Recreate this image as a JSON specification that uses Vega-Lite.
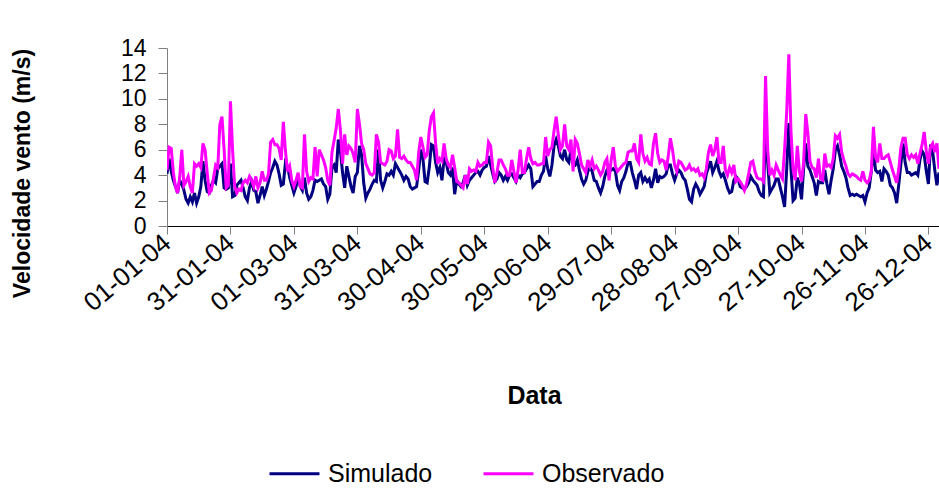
{
  "$schema": "https://vega.github.io/schema/vega-lite/v6.json",
  "width": 772,
  "height": 178,
  "autosize": {"type": "none"},
  "padding": {"left": 167, "top": 48, "right": 0, "bottom": 266},
  "background": "white",
  "config": {"font": "Liberation Sans", "view": {"stroke": null}},
  "data": {"values": [
    {"data":"2004-01-01","Simulado":4.1,"Observado":4.4},
    {"data":"2004-01-02","Simulado":5.3,"Observado":6.2},
    {"data":"2004-01-03","Simulado":4.3,"Observado":6.1},
    {"data":"2004-01-04","Simulado":3.6,"Observado":4.2},
    {"data":"2004-01-05","Simulado":3.1,"Observado":3.1},
    {"data":"2004-01-06","Simulado":2.6,"Observado":2.6},
    {"data":"2004-01-07","Simulado":3.6,"Observado":3.8},
    {"data":"2004-01-08","Simulado":3.3,"Observado":6.0},
    {"data":"2004-01-09","Simulado":2.8,"Observado":3.2},
    {"data":"2004-01-10","Simulado":2.1,"Observado":3.5},
    {"data":"2004-01-11","Simulado":1.8,"Observado":3.9},
    {"data":"2004-01-12","Simulado":2.3,"Observado":3.1},
    {"data":"2004-01-13","Simulado":1.9,"Observado":2.6},
    {"data":"2004-01-14","Simulado":2.6,"Observado":4.9},
    {"data":"2004-01-15","Simulado":1.8,"Observado":4.7},
    {"data":"2004-01-16","Simulado":2.3,"Observado":4.9},
    {"data":"2004-01-17","Simulado":3.1,"Observado":4.6},
    {"data":"2004-01-18","Simulado":5.1,"Observado":6.5},
    {"data":"2004-01-19","Simulado":3.6,"Observado":6.0},
    {"data":"2004-01-20","Simulado":2.7,"Observado":4.2},
    {"data":"2004-01-21","Simulado":2.6,"Observado":2.6},
    {"data":"2004-01-22","Simulado":3.2,"Observado":2.8},
    {"data":"2004-01-23","Simulado":3.6,"Observado":3.8},
    {"data":"2004-01-24","Simulado":3.4,"Observado":4.8},
    {"data":"2004-01-25","Simulado":4.5,"Observado":4.6},
    {"data":"2004-01-26","Simulado":4.7,"Observado":8.0},
    {"data":"2004-01-27","Simulado":4.9,"Observado":8.6},
    {"data":"2004-01-28","Simulado":3.0,"Observado":6.0},
    {"data":"2004-01-29","Simulado":2.9,"Observado":3.0},
    {"data":"2004-01-30","Simulado":3.0,"Observado":3.2},
    {"data":"2004-01-31","Simulado":4.9,"Observado":9.8},
    {"data":"2004-02-01","Simulado":2.3,"Observado":6.0},
    {"data":"2004-02-02","Simulado":2.4,"Observado":3.1},
    {"data":"2004-02-03","Simulado":3.2,"Observado":2.6},
    {"data":"2004-02-04","Simulado":3.4,"Observado":2.9},
    {"data":"2004-02-05","Simulado":3.6,"Observado":2.8},
    {"data":"2004-02-06","Simulado":3.0,"Observado":3.4},
    {"data":"2004-02-07","Simulado":2.3,"Observado":3.6},
    {"data":"2004-02-08","Simulado":2.0,"Observado":3.4},
    {"data":"2004-02-09","Simulado":3.0,"Observado":3.9},
    {"data":"2004-02-10","Simulado":3.5,"Observado":3.6},
    {"data":"2004-02-11","Simulado":2.8,"Observado":3.1},
    {"data":"2004-02-12","Simulado":2.7,"Observado":3.9},
    {"data":"2004-02-13","Simulado":1.8,"Observado":3.0},
    {"data":"2004-02-14","Simulado":2.4,"Observado":3.4},
    {"data":"2004-02-15","Simulado":3.1,"Observado":4.3},
    {"data":"2004-02-16","Simulado":2.4,"Observado":3.6},
    {"data":"2004-02-17","Simulado":2.9,"Observado":3.6},
    {"data":"2004-02-18","Simulado":3.5,"Observado":4.1},
    {"data":"2004-02-19","Simulado":4.2,"Observado":6.6},
    {"data":"2004-02-20","Simulado":4.6,"Observado":6.8},
    {"data":"2004-02-21","Simulado":5.1,"Observado":6.4},
    {"data":"2004-02-22","Simulado":4.8,"Observado":6.4},
    {"data":"2004-02-23","Simulado":4.1,"Observado":6.1},
    {"data":"2004-02-24","Simulado":3.2,"Observado":5.2},
    {"data":"2004-02-25","Simulado":3.3,"Observado":8.2},
    {"data":"2004-02-26","Simulado":5.0,"Observado":5.9},
    {"data":"2004-02-27","Simulado":4.7,"Observado":4.3},
    {"data":"2004-02-28","Simulado":3.8,"Observado":4.7},
    {"data":"2004-02-29","Simulado":3.2,"Observado":3.6},
    {"data":"2004-03-01","Simulado":2.6,"Observado":3.1},
    {"data":"2004-03-02","Simulado":3.1,"Observado":3.6},
    {"data":"2004-03-03","Simulado":3.9,"Observado":4.2},
    {"data":"2004-03-04","Simulado":3.1,"Observado":3.1},
    {"data":"2004-03-05","Simulado":2.8,"Observado":3.0},
    {"data":"2004-03-06","Simulado":3.8,"Observado":7.2},
    {"data":"2004-03-07","Simulado":2.6,"Observado":4.3},
    {"data":"2004-03-08","Simulado":2.1,"Observado":3.5},
    {"data":"2004-03-09","Simulado":2.3,"Observado":3.8},
    {"data":"2004-03-10","Simulado":2.8,"Observado":3.7},
    {"data":"2004-03-11","Simulado":3.6,"Observado":6.2},
    {"data":"2004-03-12","Simulado":3.5,"Observado":3.9},
    {"data":"2004-03-13","Simulado":3.6,"Observado":6.0},
    {"data":"2004-03-14","Simulado":3.7,"Observado":5.6},
    {"data":"2004-03-15","Simulado":3.3,"Observado":5.2},
    {"data":"2004-03-16","Simulado":3.1,"Observado":4.6},
    {"data":"2004-03-17","Simulado":2.1,"Observado":3.6},
    {"data":"2004-03-18","Simulado":2.5,"Observado":3.2},
    {"data":"2004-03-19","Simulado":4.6,"Observado":5.8},
    {"data":"2004-03-20","Simulado":4.8,"Observado":6.7},
    {"data":"2004-03-21","Simulado":4.2,"Observado":7.7},
    {"data":"2004-03-22","Simulado":6.8,"Observado":9.2},
    {"data":"2004-03-23","Simulado":5.9,"Observado":7.5},
    {"data":"2004-03-24","Simulado":4.2,"Observado":4.9},
    {"data":"2004-03-25","Simulado":3.0,"Observado":7.2},
    {"data":"2004-03-26","Simulado":4.7,"Observado":5.6},
    {"data":"2004-03-27","Simulado":3.9,"Observado":6.3},
    {"data":"2004-03-28","Simulado":3.1,"Observado":6.1},
    {"data":"2004-03-29","Simulado":2.6,"Observado":5.7},
    {"data":"2004-03-30","Simulado":3.9,"Observado":5.0},
    {"data":"2004-03-31","Simulado":4.2,"Observado":9.2},
    {"data":"2004-04-01","Simulado":6.3,"Observado":8.0},
    {"data":"2004-04-02","Simulado":5.6,"Observado":6.5},
    {"data":"2004-04-03","Simulado":3.4,"Observado":6.0},
    {"data":"2004-04-04","Simulado":2.2,"Observado":4.9},
    {"data":"2004-04-05","Simulado":2.6,"Observado":4.5},
    {"data":"2004-04-06","Simulado":2.9,"Observado":4.1},
    {"data":"2004-04-07","Simulado":3.3,"Observado":4.0},
    {"data":"2004-04-08","Simulado":3.6,"Observado":4.2},
    {"data":"2004-04-09","Simulado":3.5,"Observado":7.2},
    {"data":"2004-04-10","Simulado":6.0,"Observado":6.6},
    {"data":"2004-04-11","Simulado":3.6,"Observado":5.0},
    {"data":"2004-04-12","Simulado":3.0,"Observado":4.9},
    {"data":"2004-04-13","Simulado":3.5,"Observado":4.8},
    {"data":"2004-04-14","Simulado":4.1,"Observado":5.1},
    {"data":"2004-04-15","Simulado":4.0,"Observado":6.0},
    {"data":"2004-04-16","Simulado":4.3,"Observado":5.9},
    {"data":"2004-04-17","Simulado":4.0,"Observado":5.3},
    {"data":"2004-04-18","Simulado":4.9,"Observado":5.5},
    {"data":"2004-04-19","Simulado":4.6,"Observado":7.6},
    {"data":"2004-04-20","Simulado":4.3,"Observado":5.4},
    {"data":"2004-04-21","Simulado":4.0,"Observado":5.3},
    {"data":"2004-04-22","Simulado":3.6,"Observado":5.5},
    {"data":"2004-04-23","Simulado":3.9,"Observado":5.2},
    {"data":"2004-04-24","Simulado":3.7,"Observado":5.0},
    {"data":"2004-04-25","Simulado":3.1,"Observado":5.0},
    {"data":"2004-04-26","Simulado":2.9,"Observado":4.7},
    {"data":"2004-04-27","Simulado":3.0,"Observado":4.4},
    {"data":"2004-04-28","Simulado":3.1,"Observado":3.6},
    {"data":"2004-04-29","Simulado":4.4,"Observado":5.8},
    {"data":"2004-04-30","Simulado":6.0,"Observado":7.0},
    {"data":"2004-05-01","Simulado":5.3,"Observado":6.2},
    {"data":"2004-05-02","Simulado":3.5,"Observado":5.4},
    {"data":"2004-05-03","Simulado":3.4,"Observado":5.6},
    {"data":"2004-05-04","Simulado":4.6,"Observado":7.5},
    {"data":"2004-05-05","Simulado":6.4,"Observado":8.6},
    {"data":"2004-05-06","Simulado":6.3,"Observado":8.9},
    {"data":"2004-05-07","Simulado":5.0,"Observado":6.5},
    {"data":"2004-05-08","Simulado":4.2,"Observado":4.9},
    {"data":"2004-05-09","Simulado":4.6,"Observado":5.3},
    {"data":"2004-05-10","Simulado":3.6,"Observado":5.1},
    {"data":"2004-05-11","Simulado":5.3,"Observado":6.5},
    {"data":"2004-05-12","Simulado":5.0,"Observado":5.3},
    {"data":"2004-05-13","Simulado":4.2,"Observado":4.8},
    {"data":"2004-05-14","Simulado":4.0,"Observado":4.6},
    {"data":"2004-05-15","Simulado":4.6,"Observado":5.6},
    {"data":"2004-05-16","Simulado":2.5,"Observado":4.6},
    {"data":"2004-05-17","Simulado":3.6,"Observado":3.5},
    {"data":"2004-05-18","Simulado":3.3,"Observado":3.4},
    {"data":"2004-05-19","Simulado":3.1,"Observado":3.2},
    {"data":"2004-05-20","Simulado":3.4,"Observado":3.0},
    {"data":"2004-05-21","Simulado":4.0,"Observado":4.0},
    {"data":"2004-05-22","Simulado":3.2,"Observado":3.3},
    {"data":"2004-05-23","Simulado":3.6,"Observado":4.5},
    {"data":"2004-05-24","Simulado":3.8,"Observado":4.3},
    {"data":"2004-05-25","Simulado":4.0,"Observado":4.4},
    {"data":"2004-05-26","Simulado":4.2,"Observado":4.3},
    {"data":"2004-05-27","Simulado":4.3,"Observado":5.0},
    {"data":"2004-05-28","Simulado":4.0,"Observado":4.7},
    {"data":"2004-05-29","Simulado":4.4,"Observado":4.8},
    {"data":"2004-05-30","Simulado":4.6,"Observado":5.0},
    {"data":"2004-05-31","Simulado":4.7,"Observado":5.0},
    {"data":"2004-06-01","Simulado":5.5,"Observado":6.6},
    {"data":"2004-06-02","Simulado":4.8,"Observado":6.3},
    {"data":"2004-06-03","Simulado":4.1,"Observado":4.6},
    {"data":"2004-06-04","Simulado":3.5,"Observado":3.4},
    {"data":"2004-06-05","Simulado":3.7,"Observado":4.2},
    {"data":"2004-06-06","Simulado":4.2,"Observado":5.2},
    {"data":"2004-06-07","Simulado":4.0,"Observado":5.2},
    {"data":"2004-06-08","Simulado":3.6,"Observado":4.8},
    {"data":"2004-06-09","Simulado":3.9,"Observado":4.5},
    {"data":"2004-06-10","Simulado":3.6,"Observado":4.0},
    {"data":"2004-06-11","Simulado":4.0,"Observado":4.0},
    {"data":"2004-06-12","Simulado":4.1,"Observado":5.2},
    {"data":"2004-06-13","Simulado":3.8,"Observado":4.3},
    {"data":"2004-06-14","Simulado":3.5,"Observado":3.4},
    {"data":"2004-06-15","Simulado":4.0,"Observado":4.4},
    {"data":"2004-06-16","Simulado":3.8,"Observado":6.0},
    {"data":"2004-06-17","Simulado":4.1,"Observado":4.2},
    {"data":"2004-06-18","Simulado":4.2,"Observado":4.2},
    {"data":"2004-06-19","Simulado":4.5,"Observado":5.3},
    {"data":"2004-06-20","Simulado":4.8,"Observado":6.2},
    {"data":"2004-06-21","Simulado":4.5,"Observado":5.3},
    {"data":"2004-06-22","Simulado":3.1,"Observado":4.9},
    {"data":"2004-06-23","Simulado":3.3,"Observado":5.0},
    {"data":"2004-06-24","Simulado":3.5,"Observado":4.8},
    {"data":"2004-06-25","Simulado":3.5,"Observado":4.8},
    {"data":"2004-06-26","Simulado":4.0,"Observado":4.9},
    {"data":"2004-06-27","Simulado":4.3,"Observado":4.9},
    {"data":"2004-06-28","Simulado":5.5,"Observado":7.0},
    {"data":"2004-06-29","Simulado":4.5,"Observado":5.5},
    {"data":"2004-06-30","Simulado":3.9,"Observado":6.0},
    {"data":"2004-07-01","Simulado":4.8,"Observado":6.2},
    {"data":"2004-07-02","Simulado":6.3,"Observado":7.5},
    {"data":"2004-07-03","Simulado":6.8,"Observado":8.6},
    {"data":"2004-07-04","Simulado":6.3,"Observado":7.2},
    {"data":"2004-07-05","Simulado":5.5,"Observado":6.0},
    {"data":"2004-07-06","Simulado":5.3,"Observado":6.3},
    {"data":"2004-07-07","Simulado":6.0,"Observado":8.0},
    {"data":"2004-07-08","Simulado":5.2,"Observado":6.3},
    {"data":"2004-07-09","Simulado":5.0,"Observado":6.0},
    {"data":"2004-07-10","Simulado":6.0,"Observado":6.8},
    {"data":"2004-07-11","Simulado":4.9,"Observado":4.3},
    {"data":"2004-07-12","Simulado":4.8,"Observado":6.8},
    {"data":"2004-07-13","Simulado":5.2,"Observado":6.5},
    {"data":"2004-07-14","Simulado":4.4,"Observado":5.7},
    {"data":"2004-07-15","Simulado":3.7,"Observado":4.8},
    {"data":"2004-07-16","Simulado":3.3,"Observado":4.5},
    {"data":"2004-07-17","Simulado":3.6,"Observado":4.2},
    {"data":"2004-07-18","Simulado":4.3,"Observado":5.2},
    {"data":"2004-07-19","Simulado":4.6,"Observado":4.7},
    {"data":"2004-07-20","Simulado":4.3,"Observado":5.2},
    {"data":"2004-07-21","Simulado":3.6,"Observado":4.5},
    {"data":"2004-07-22","Simulado":3.5,"Observado":4.7},
    {"data":"2004-07-23","Simulado":3.0,"Observado":4.4},
    {"data":"2004-07-24","Simulado":2.6,"Observado":4.0},
    {"data":"2004-07-25","Simulado":3.1,"Observado":4.3},
    {"data":"2004-07-26","Simulado":3.9,"Observado":5.0},
    {"data":"2004-07-27","Simulado":4.4,"Observado":5.3},
    {"data":"2004-07-28","Simulado":4.7,"Observado":3.6},
    {"data":"2004-07-29","Simulado":4.4,"Observado":5.2},
    {"data":"2004-07-30","Simulado":4.5,"Observado":6.2},
    {"data":"2004-07-31","Simulado":4.3,"Observado":4.7},
    {"data":"2004-08-01","Simulado":3.2,"Observado":4.3},
    {"data":"2004-08-02","Simulado":2.8,"Observado":4.5},
    {"data":"2004-08-03","Simulado":3.5,"Observado":4.7},
    {"data":"2004-08-04","Simulado":3.8,"Observado":4.9},
    {"data":"2004-08-05","Simulado":4.3,"Observado":5.0},
    {"data":"2004-08-06","Simulado":5.0,"Observado":5.8},
    {"data":"2004-08-07","Simulado":5.0,"Observado":5.9},
    {"data":"2004-08-08","Simulado":4.2,"Observado":5.9},
    {"data":"2004-08-09","Simulado":3.6,"Observado":6.5},
    {"data":"2004-08-10","Simulado":2.9,"Observado":5.3},
    {"data":"2004-08-11","Simulado":4.0,"Observado":5.0},
    {"data":"2004-08-12","Simulado":4.2,"Observado":7.2},
    {"data":"2004-08-13","Simulado":3.5,"Observado":5.7},
    {"data":"2004-08-14","Simulado":3.8,"Observado":5.1},
    {"data":"2004-08-15","Simulado":3.5,"Observado":5.4},
    {"data":"2004-08-16","Simulado":3.7,"Observado":4.9},
    {"data":"2004-08-17","Simulado":3.0,"Observado":4.8},
    {"data":"2004-08-18","Simulado":3.6,"Observado":6.5},
    {"data":"2004-08-19","Simulado":4.5,"Observado":7.3},
    {"data":"2004-08-20","Simulado":3.4,"Observado":5.7},
    {"data":"2004-08-21","Simulado":3.9,"Observado":5.0},
    {"data":"2004-08-22","Simulado":3.8,"Observado":5.2},
    {"data":"2004-08-23","Simulado":3.9,"Observado":5.1},
    {"data":"2004-08-24","Simulado":4.1,"Observado":4.4},
    {"data":"2004-08-25","Simulado":4.8,"Observado":5.5},
    {"data":"2004-08-26","Simulado":4.8,"Observado":6.9},
    {"data":"2004-08-27","Simulado":4.1,"Observado":6.0},
    {"data":"2004-08-28","Simulado":3.6,"Observado":4.8},
    {"data":"2004-08-29","Simulado":4.1,"Observado":4.3},
    {"data":"2004-08-30","Simulado":4.4,"Observado":5.1},
    {"data":"2004-08-31","Simulado":4.2,"Observado":5.0},
    {"data":"2004-09-01","Simulado":3.8,"Observado":4.7},
    {"data":"2004-09-02","Simulado":3.6,"Observado":4.4},
    {"data":"2004-09-03","Simulado":2.9,"Observado":4.5},
    {"data":"2004-09-04","Simulado":2.1,"Observado":4.8},
    {"data":"2004-09-05","Simulado":1.9,"Observado":4.4},
    {"data":"2004-09-06","Simulado":2.9,"Observado":4.5},
    {"data":"2004-09-07","Simulado":3.3,"Observado":4.3},
    {"data":"2004-09-08","Simulado":3.0,"Observado":4.5},
    {"data":"2004-09-09","Simulado":2.5,"Observado":4.0},
    {"data":"2004-09-10","Simulado":2.8,"Observado":4.1},
    {"data":"2004-09-11","Simulado":3.1,"Observado":3.8},
    {"data":"2004-09-12","Simulado":4.1,"Observado":4.5},
    {"data":"2004-09-13","Simulado":4.6,"Observado":5.8},
    {"data":"2004-09-14","Simulado":5.1,"Observado":6.4},
    {"data":"2004-09-15","Simulado":4.2,"Observado":5.5},
    {"data":"2004-09-16","Simulado":4.6,"Observado":6.0},
    {"data":"2004-09-17","Simulado":5.1,"Observado":7.0},
    {"data":"2004-09-18","Simulado":4.3,"Observado":5.0},
    {"data":"2004-09-19","Simulado":3.9,"Observado":5.0},
    {"data":"2004-09-20","Simulado":4.1,"Observado":6.3},
    {"data":"2004-09-21","Simulado":3.6,"Observado":4.4},
    {"data":"2004-09-22","Simulado":3.0,"Observado":4.0},
    {"data":"2004-09-23","Simulado":2.6,"Observado":4.6},
    {"data":"2004-09-24","Simulado":2.7,"Observado":4.2},
    {"data":"2004-09-25","Simulado":3.6,"Observado":4.8},
    {"data":"2004-09-26","Simulado":3.9,"Observado":3.5},
    {"data":"2004-09-27","Simulado":3.7,"Observado":3.7},
    {"data":"2004-09-28","Simulado":3.1,"Observado":3.5},
    {"data":"2004-09-29","Simulado":3.0,"Observado":3.2},
    {"data":"2004-09-30","Simulado":2.9,"Observado":2.8},
    {"data":"2004-10-01","Simulado":3.1,"Observado":3.3},
    {"data":"2004-10-02","Simulado":3.4,"Observado":4.1},
    {"data":"2004-10-03","Simulado":3.9,"Observado":5.0},
    {"data":"2004-10-04","Simulado":3.6,"Observado":5.1},
    {"data":"2004-10-05","Simulado":3.4,"Observado":4.3},
    {"data":"2004-10-06","Simulado":3.2,"Observado":3.8},
    {"data":"2004-10-07","Simulado":2.7,"Observado":3.7},
    {"data":"2004-10-08","Simulado":2.4,"Observado":3.7},
    {"data":"2004-10-09","Simulado":2.3,"Observado":3.5},
    {"data":"2004-10-10","Simulado":7.8,"Observado":11.8},
    {"data":"2004-10-11","Simulado":5.0,"Observado":6.0},
    {"data":"2004-10-12","Simulado":2.6,"Observado":4.0},
    {"data":"2004-10-13","Simulado":2.9,"Observado":4.4},
    {"data":"2004-10-14","Simulado":3.2,"Observado":4.0},
    {"data":"2004-10-15","Simulado":3.7,"Observado":4.8},
    {"data":"2004-10-16","Simulado":3.7,"Observado":4.4},
    {"data":"2004-10-17","Simulado":3.0,"Observado":4.0},
    {"data":"2004-10-18","Simulado":2.3,"Observado":3.7},
    {"data":"2004-10-19","Simulado":1.5,"Observado":6.0},
    {"data":"2004-10-20","Simulado":4.5,"Observado":9.0},
    {"data":"2004-10-21","Simulado":8.1,"Observado":13.5},
    {"data":"2004-10-22","Simulado":4.5,"Observado":7.5},
    {"data":"2004-10-23","Simulado":2.0,"Observado":4.5},
    {"data":"2004-10-24","Simulado":2.2,"Observado":3.6},
    {"data":"2004-10-25","Simulado":3.8,"Observado":6.3},
    {"data":"2004-10-26","Simulado":3.3,"Observado":4.3},
    {"data":"2004-10-27","Simulado":2.1,"Observado":3.5},
    {"data":"2004-10-28","Simulado":4.5,"Observado":5.0},
    {"data":"2004-10-29","Simulado":6.5,"Observado":8.8},
    {"data":"2004-10-30","Simulado":4.7,"Observado":7.3},
    {"data":"2004-10-31","Simulado":4.4,"Observado":5.1},
    {"data":"2004-11-01","Simulado":3.9,"Observado":4.6},
    {"data":"2004-11-02","Simulado":3.4,"Observado":4.5},
    {"data":"2004-11-03","Simulado":2.4,"Observado":3.8},
    {"data":"2004-11-04","Simulado":3.5,"Observado":5.3},
    {"data":"2004-11-05","Simulado":3.4,"Observado":3.7},
    {"data":"2004-11-06","Simulado":3.4,"Observado":3.6},
    {"data":"2004-11-07","Simulado":4.4,"Observado":5.7},
    {"data":"2004-11-08","Simulado":3.3,"Observado":4.7},
    {"data":"2004-11-09","Simulado":2.5,"Observado":4.8},
    {"data":"2004-11-10","Simulado":3.6,"Observado":4.6},
    {"data":"2004-11-11","Simulado":4.5,"Observado":5.3},
    {"data":"2004-11-12","Simulado":6.0,"Observado":7.1},
    {"data":"2004-11-13","Simulado":6.3,"Observado":6.9},
    {"data":"2004-11-14","Simulado":5.6,"Observado":7.2},
    {"data":"2004-11-15","Simulado":4.7,"Observado":5.8},
    {"data":"2004-11-16","Simulado":4.3,"Observado":5.2},
    {"data":"2004-11-17","Simulado":3.8,"Observado":4.7},
    {"data":"2004-11-18","Simulado":3.0,"Observado":4.1},
    {"data":"2004-11-19","Simulado":2.4,"Observado":3.9},
    {"data":"2004-11-20","Simulado":2.5,"Observado":4.1},
    {"data":"2004-11-21","Simulado":2.4,"Observado":4.0},
    {"data":"2004-11-22","Simulado":2.5,"Observado":3.9},
    {"data":"2004-11-23","Simulado":2.4,"Observado":3.7},
    {"data":"2004-11-24","Simulado":2.3,"Observado":3.6},
    {"data":"2004-11-25","Simulado":2.4,"Observado":4.3},
    {"data":"2004-11-26","Simulado":1.9,"Observado":3.6},
    {"data":"2004-11-27","Simulado":2.6,"Observado":3.4},
    {"data":"2004-11-28","Simulado":3.0,"Observado":3.6},
    {"data":"2004-11-29","Simulado":4.3,"Observado":4.3},
    {"data":"2004-11-30","Simulado":6.0,"Observado":7.8},
    {"data":"2004-12-01","Simulado":4.4,"Observado":5.4},
    {"data":"2004-12-02","Simulado":4.2,"Observado":5.0},
    {"data":"2004-12-03","Simulado":4.3,"Observado":6.5},
    {"data":"2004-12-04","Simulado":3.5,"Observado":5.3},
    {"data":"2004-12-05","Simulado":4.5,"Observado":5.3},
    {"data":"2004-12-06","Simulado":4.3,"Observado":5.5},
    {"data":"2004-12-07","Simulado":4.0,"Observado":5.6},
    {"data":"2004-12-08","Simulado":3.2,"Observado":5.0},
    {"data":"2004-12-09","Simulado":3.0,"Observado":4.4},
    {"data":"2004-12-10","Simulado":2.6,"Observado":3.9},
    {"data":"2004-12-11","Simulado":1.8,"Observado":3.4},
    {"data":"2004-12-12","Simulado":3.3,"Observado":4.5},
    {"data":"2004-12-13","Simulado":4.9,"Observado":6.2},
    {"data":"2004-12-14","Simulado":6.5,"Observado":6.9},
    {"data":"2004-12-15","Simulado":5.0,"Observado":6.9},
    {"data":"2004-12-16","Simulado":4.2,"Observado":5.6},
    {"data":"2004-12-17","Simulado":4.2,"Observado":5.3},
    {"data":"2004-12-18","Simulado":4.0,"Observado":5.6},
    {"data":"2004-12-19","Simulado":4.1,"Observado":5.4},
    {"data":"2004-12-20","Simulado":4.2,"Observado":5.6},
    {"data":"2004-12-21","Simulado":4.0,"Observado":4.9},
    {"data":"2004-12-22","Simulado":5.2,"Observado":5.7},
    {"data":"2004-12-23","Simulado":5.9,"Observado":6.4},
    {"data":"2004-12-24","Simulado":5.6,"Observado":7.4},
    {"data":"2004-12-25","Simulado":4.3,"Observado":5.9},
    {"data":"2004-12-26","Simulado":3.3,"Observado":4.9},
    {"data":"2004-12-27","Simulado":6.4,"Observado":6.2},
    {"data":"2004-12-28","Simulado":5.9,"Observado":6.5},
    {"data":"2004-12-29","Simulado":4.4,"Observado":5.8},
    {"data":"2004-12-30","Simulado":3.2,"Observado":6.5},
    {"data":"2004-12-31","Simulado":4.2,"Observado":4.5}
  ]},
  "transform": [{"fold": ["Simulado", "Observado"], "as": ["serie", "velocidade"]}],
  "mark": {"type": "line", "strokeWidth": 3, "clip": true},
  "encoding": {
    "x": {
      "field": "data",
      "type": "temporal",
      "scale": {
        "type": "utc",
        "domain": [
          {"year": 2004, "month": 1, "date": 1, "utc": true},
          {"year": 2004, "month": 12, "date": 31, "utc": true}
        ]
      },
      "axis": {
        "title": "Data",
        "titleFontSize": 25,
        "titleFontWeight": "bold",
        "titleColor": "black",
        "titleX": 367,
        "titleY": 169,
        "titleBaseline": "middle",
        "values": [
          {"year": 2004, "month": 1, "date": 1, "utc": true},
          {"year": 2004, "month": 1, "date": 31, "utc": true},
          {"year": 2004, "month": 3, "date": 1, "utc": true},
          {"year": 2004, "month": 3, "date": 31, "utc": true},
          {"year": 2004, "month": 4, "date": 30, "utc": true},
          {"year": 2004, "month": 5, "date": 30, "utc": true},
          {"year": 2004, "month": 6, "date": 29, "utc": true},
          {"year": 2004, "month": 7, "date": 29, "utc": true},
          {"year": 2004, "month": 8, "date": 28, "utc": true},
          {"year": 2004, "month": 9, "date": 27, "utc": true},
          {"year": 2004, "month": 10, "date": 27, "utc": true},
          {"year": 2004, "month": 11, "date": 26, "utc": true},
          {"year": 2004, "month": 12, "date": 26, "utc": true}
        ],
        "format": "%d-%m-%y",
        "labelAngle": -40,
        "labelAlign": "right",
        "labelBaseline": "middle",
        "labelFontSize": 26,
        "labelColor": "black",
        "labelPadding": 5,
        "labelOverlap": false,
        "labelFlush": false,
        "tickSize": 8,
        "tickColor": "#808080",
        "domainColor": "black",
        "grid": false
      }
    },
    "y": {
      "field": "velocidade",
      "type": "quantitative",
      "scale": {"domain": [0, 14], "nice": false},
      "axis": {
        "title": "Velocidade vento (m/s)",
        "titleFontSize": 23,
        "titleFontWeight": "bold",
        "titleColor": "black",
        "titleX": -145,
        "titleY": 125,
        "titleAlign": "center",
        "titleBaseline": "middle",
        "values": [0, 2, 4, 6, 8, 10, 12, 14],
        "labelFontSize": 23,
        "labelColor": "black",
        "labelPadding": 12,
        "tickSize": 9,
        "tickColor": "#808080",
        "domainColor": "#808080",
        "grid": false
      }
    },
    "color": {
      "field": "serie",
      "type": "nominal",
      "sort": ["Simulado", "Observado"],
      "scale": {"domain": ["Simulado", "Observado"], "range": ["#000080", "#FF00FF"]},
      "legend": {
        "title": null,
        "orient": "none",
        "direction": "horizontal",
        "legendX": 101,
        "legendY": 399,
        "symbolType": "stroke",
        "symbolSize": 2500,
        "symbolStrokeWidth": 3,
        "labelFontSize": 25,
        "labelColor": "black",
        "labelOffset": 7,
        "columnPadding": 44
      }
    }
  }
}
